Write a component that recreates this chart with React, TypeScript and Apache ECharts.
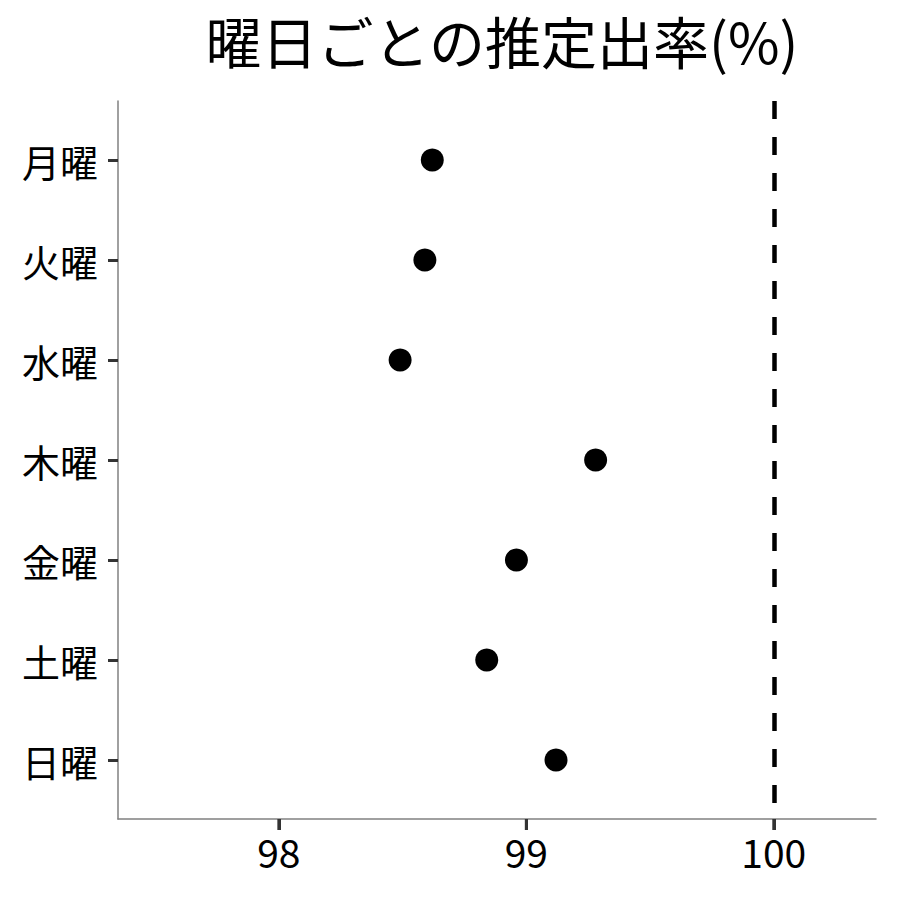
import React, { useEffect, useRef } from 'react';
import * as echarts from 'echarts';

// Categories (top to bottom) and estimated values
const days = ['月曜', '火曜', '水曜', '木曜', '金曜', '土曜', '日曜'];
const rates = [98.62, 98.59, 98.49, 99.28, 98.96, 98.84, 99.12];
const xTicks = [98, 99, 100];
const refLine = 100;

const FONT = '"Noto Sans CJK JP", "Noto Sans", sans-serif';

// positions 1..7 on the vertical axis (top to bottom)
const dayPos = days.map((_, i) => i + 1);
const yMin = 0.41;
const yMax = 7.59;

const App: React.FC = () => {
	const chartRef = useRef<HTMLDivElement>(null);

	useEffect(() => {
		if (!chartRef.current) return;
		const chart = echarts.init(chartRef.current, undefined, { renderer: 'svg' });

		const option: any = {
			animation: false,
			backgroundColor: '#ffffff',
			textStyle: { fontFamily: FONT },
			title: {
				text: '曜日ごとの推定出率(%)',
				left: 497,
				textAlign: 'center',
				top: 6,
				textStyle: { fontFamily: FONT, fontSize: 56, fontWeight: 'normal', color: '#000' }
			},
			grid: { left: 118, right: 24, top: 101, bottom: 81 },
			xAxis: {
				type: 'value',
				min: 97.35,
				max: 100.413,
				splitLine: { show: false },
				axisLine: { show: true, lineStyle: { color: '#808080', width: 1.5 } },
				axisTick: {
					show: true,
					customValues: xTicks,
					length: 11,
					lineStyle: { color: '#333', width: 3 }
				},
				axisLabel: {
					customValues: xTicks,
					margin: 12,
					fontSize: 39,
					color: '#000',
					fontFamily: FONT
				}
			},
			yAxis: {
				type: 'value',
				inverse: true,
				min: yMin,
				max: yMax,
				splitLine: { show: false },
				axisLine: { show: true, lineStyle: { color: '#808080', width: 1.5 } },
				axisTick: {
					show: true,
					customValues: dayPos,
					length: 10,
					lineStyle: { color: '#333', width: 3 }
				},
				axisLabel: {
					customValues: dayPos,
					formatter: (v: number) => days[Math.round(v) - 1] ?? '',
					margin: 20,
					fontSize: 38,
					color: '#000',
					fontFamily: FONT,
					padding: [0, 0, 4, 0]
				}
			},
			series: [
				{
					type: 'scatter',
					data: rates.map((r, i) => [r, dayPos[i]]),
					symbolSize: 23,
					itemStyle: { color: '#000', opacity: 1 },
					markLine: {
						silent: true,
						symbol: 'none',
						label: { show: false },
						lineStyle: { color: '#000', type: [18, 18], width: 4.5 },
						data: [{ xAxis: refLine }]
					}
				},
				{
					// x-axis tick marks drawn under the axis line
					type: 'custom',
					silent: true,
					clip: false,
					data: xTicks.map((t) => [t, yMax]),
					renderItem: (_params: any, api: any) => {
						const p = api.coord([api.value(0), api.value(1)]);
						return {
							type: 'line',
							shape: { x1: p[0], y1: p[1], x2: p[0], y2: p[1] + 11 },
							style: { stroke: '#333', lineWidth: 3 }
						};
					}
				}
			]
		};

		chart.setOption(option);
		return () => {
			chart.dispose();
		};
	}, []);

	return (
		<div
			ref={chartRef}
			style={{ position: 'absolute', left: 0, top: 0, width: 900, height: 900 }}
		/>
	);
};

export default App;
